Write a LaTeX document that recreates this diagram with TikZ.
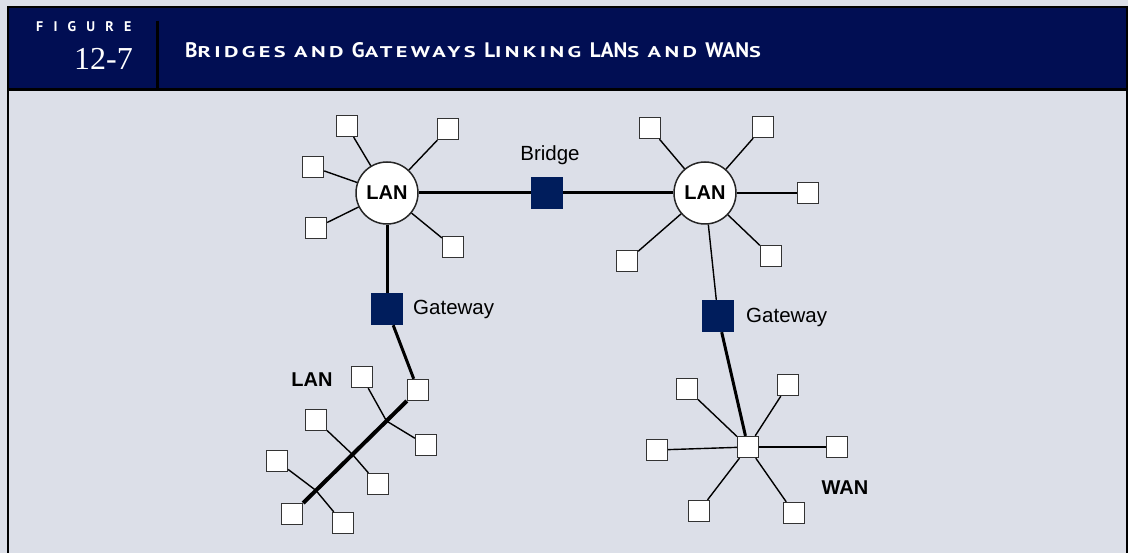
\documentclass[tikz,border=0pt]{standalone}
\usepackage{graphicx}
\usepackage{fontspec}
\setmainfont{Liberation Sans}
\newfontfamily\headfont{PT Sans}
\newfontfamily\smcfont[LetterSpace=15]{PT Sans}
\newfontfamily\numfont{Liberation Serif}
\usetikzlibrary{calc}

\definecolor{paper}{RGB}{220,223,232}
\definecolor{headnavy}{RGB}{1,14,83}
\definecolor{boxnavy}{RGB}{0,29,92}

\newcommand\capbig[1]{{\headfont\bfseries\fontsize{21}{24}\selectfont #1}}
\newcommand\smc[1]{\scalebox{1.44}[1]{\smcfont\bfseries\fontsize{15.5}{18}\selectfont #1}}
\newcommand\wgap{\hspace{8.5pt}}
\newcommand\figgap{\kern10.2pt}

\begin{document}
\begin{tikzpicture}[x=1pt,y=-1pt,
  term/.style={draw=black!80,fill=white,line width=1.3pt,minimum size=21pt,inner sep=0pt},
  hub/.style={circle,draw=black!85,fill=white,line width=1.5pt,minimum size=62pt,inner sep=0pt,font=\fontsize{20}{24}\selectfont\bfseries},
  linkbox/.style={fill=boxnavy,minimum size=32pt,inner sep=0pt},
  lbl/.style={font=\fontsize{20.5}{24}\selectfont,inner sep=0pt},
  spoke/.style={line width=1.4pt},
  trunk/.style={line width=3pt}]
\useasboundingbox (0,0) rectangle (1128,553);
\fill[paper] (0,0) rectangle (1128,553);
% header band
\fill[headnavy] (8,7) rectangle (1127,89);
\draw[line width=2.5pt] (8,600) -- (8,7) -- (1127,7) -- (1127,600);
\draw[line width=3pt] (8,89.5) -- (1127,89.5);
\draw[line width=3pt] (157.5,21) -- (157.5,89);
\node[anchor=west,text=white,inner sep=0pt,font=\headfont\bfseries\fontsize{14}{16}\selectfont] (figword) at (36,27)
  {F\figgap I\figgap G\figgap U\figgap R\figgap E};
\node[anchor=east,text=white,inner sep=0pt,font=\numfont\fontsize{32}{36}\selectfont] (fignum) at (133,59) {12-7};
\node[anchor=base west,text=white,inner sep=0pt,font=\headfont\bfseries\fontsize{15.5}{18}\selectfont] (title) at (185,57.5)
  {\capbig{B}\smc{RIDGES}\wgap\smc{AND}\wgap\capbig{G}\smc{ATEWAYS}\wgap\capbig{L}\smc{INKING}\wgap\capbig{LAN}\smc{S}\wgap\smc{AND}\wgap\capbig{WAN}\smc{S}};

% upper LANs and bridge
\node[hub] (lanA) at (387,193) {LAN};
\node[hub] (lanB) at (705,193) {LAN};
\node[linkbox] (bridge) at (547,193) {};
\node[lbl] (bridgetxt) at (550,155) {Bridge};
\draw[trunk] (lanA) -- (bridge) -- (lanB);

\foreach \p [count=\i] in {(347,126),(448,129),(313,167),(316,228),(453,247)}
  {\node[term] (a\i) at \p {}; \draw[spoke] (lanA) -- (a\i);}
\foreach \p [count=\i] in {(650,128),(763,127),(808,193),(627,261),(771,256)}
  {\node[term] (b\i) at \p {}; \draw[spoke] (lanB) -- (b\i);}

% gateways
\node[linkbox] (gwA) at (387,309) {};
\node[lbl,anchor=west] (gwAtxt) at (413,309) {Gateway};
\node[linkbox] (gwB) at (718,316) {};
\node[lbl,anchor=west] (gwBtxt) at (746,317) {Gateway};
\draw[trunk] (lanA) -- (gwA);
\draw[spoke] (lanB) -- (gwB);

% lower LAN (bus)
\node[term] (top) at (418,390) {};
\node[term] (bot) at (292,514) {};
\draw[trunk] (gwA) -- (top);
\draw[line width=4pt] (top) -- (bot);
\coordinate (j1) at ($(418,390)!0.25!(292,514)$);
\coordinate (j2) at ($(418,390)!0.52!(292,514)$);
\coordinate (j3) at ($(418,390)!0.81!(292,514)$);
\node[term] (c1) at (362,377) {};
\node[term] (c2) at (426,445) {};
\node[term] (c3) at (316,420) {};
\node[term] (c4) at (378,484) {};
\node[term] (c5) at (277,461) {};
\node[term] (c6) at (343,523) {};
\draw[spoke] (c1) -- (j1) -- (c2);
\draw[spoke] (c3) -- (j2) -- (c4);
\draw[spoke] (c5) -- (j3) -- (c6);
\node[lbl,font=\fontsize{20}{24}\selectfont\bfseries] (lantxt) at (312,380) {LAN};

% WAN
\node[term] (wan) at (748,447) {};
\draw[trunk] (gwB) -- (wan);
\foreach \p [count=\i] in {(687,389),(788,385),(657,450),(837,447),(699,511),(794,513)}
  {\node[term] (w\i) at \p {}; \draw[spoke] (wan) -- (w\i);}
\node[lbl,font=\fontsize{20}{24}\selectfont\bfseries] (wantxt) at (845,488) {WAN};
\end{tikzpicture}
\end{document}
